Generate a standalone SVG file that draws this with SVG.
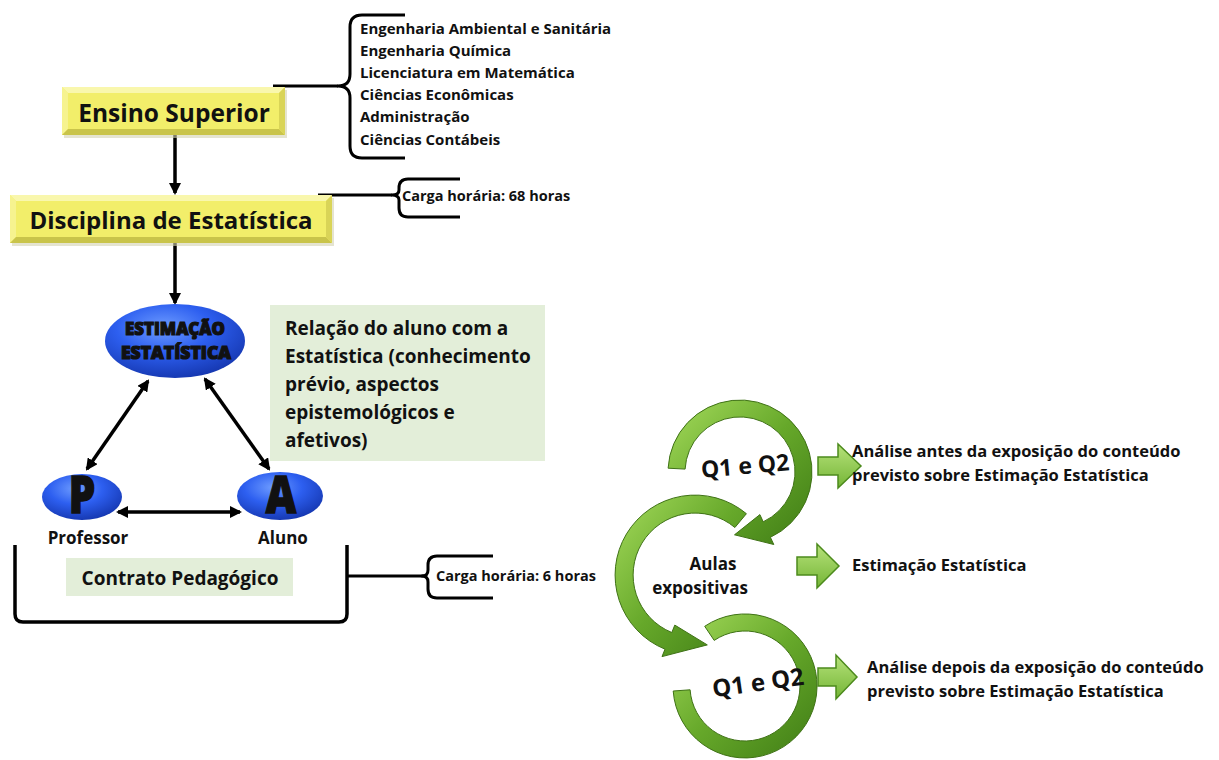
<svg xmlns="http://www.w3.org/2000/svg" width="1219" height="760" viewBox="0 0 1219 760">
<style>
text{font-family:"Open Sans",Lato,"Liberation Sans",sans-serif;font-weight:bold;fill:#111}
.conn{stroke:#000;stroke-width:3.5;fill:none}
.brace{stroke:#000;stroke-width:3;fill:none;stroke-linejoin:round}
.list{font-size:15px}
.rel{font-size:19px}
.side{font-size:16.5px}
.ellipseB{fill:url(#blue)}
.circ{fill:url(#gcirc);stroke:#3f7216;stroke-width:1}
.blk{fill:url(#gblk);stroke:#4c8a1c;stroke-width:1.5}
.gbox{fill:#e3eed9}
.heavy{stroke:#111;stroke-width:1.2;font-weight:800}
</style>
<defs>
<marker id="ah" viewBox="0 0 12 12" refX="10" refY="6" markerWidth="12" markerHeight="12" markerUnits="userSpaceOnUse" orient="auto-start-reverse">
<path d="M0,0 L12,6 L0,12 z" fill="#000"/>
</marker>
<radialGradient id="blue" cx="0.42" cy="0.32" r="0.75">
<stop offset="0" stop-color="#6e9cff"/>
<stop offset="0.45" stop-color="#2d5ff0"/>
<stop offset="1" stop-color="#1232a8"/>
</radialGradient>
<linearGradient id="gcirc" x1="0" y1="0" x2="1" y2="1">
<stop offset="0" stop-color="#a5db5c"/>
<stop offset="0.5" stop-color="#66a82a"/>
<stop offset="1" stop-color="#3f7c15"/>
</linearGradient>
<linearGradient id="gblk" x1="0" y1="0" x2="0" y2="1">
<stop offset="0" stop-color="#b6e27a"/>
<stop offset="1" stop-color="#74b536"/>
</linearGradient>
</defs>

<g id="connectors">
<line class="conn" x1="175" y1="135" x2="175" y2="193" marker-end="url(#ah)"/>
<line class="conn" x1="175" y1="243" x2="175" y2="303" marker-end="url(#ah)"/>
<line class="conn" x1="148" y1="381" x2="87" y2="469" marker-start="url(#ah)" marker-end="url(#ah)"/>
<line class="conn" x1="205" y1="379" x2="269" y2="469" marker-start="url(#ah)" marker-end="url(#ah)"/>
<line class="conn" x1="118" y1="512" x2="240" y2="512" marker-start="url(#ah)" marker-end="url(#ah)"/>
<path class="brace" d="M273,86 H338"/>
<path class="brace" d="M318,195 H392"/>
<path class="brace" d="M347,576 H424"/>
</g>

<g id="ensino">
<rect x="64" y="90" width="223" height="48" fill="#d4d2b0" opacity="0.6"/>
<rect x="62" y="87" width="223" height="48" fill="#f2ee6a"/>
<polygon points="62,87 285,87 279,93 68,93" fill="#f9f7ad"/>
<polygon points="62,87 68,93 68,129 62,135" fill="#f6f38f"/>
<polygon points="62,135 285,135 279,129 68,129" fill="#c9c44a"/>
<polygon points="285,87 285,135 279,129 279,93" fill="#d9d457"/>
<text x="174" y="122" font-size="24.5" text-anchor="middle">Ensino Superior</text>
</g>

<g id="cursos">
<path class="brace" d="M405,15 H362 Q350,15 350,27 V74 Q350,86 338,86 Q350,86 350,98 V146 Q350,158 362,158 H405"/>
<text class="list" x="360" y="34">Engenharia Ambiental e Sanitária</text>
<text class="list" x="360" y="56">Engenharia Química</text>
<text class="list" x="360" y="78">Licenciatura em Matemática</text>
<text class="list" x="360" y="100">Ciências Econômicas</text>
<text class="list" x="360" y="122">Administração</text>
<text class="list" x="360" y="145">Ciências Contábeis</text>
</g>

<g id="disciplina">
<rect x="12" y="198" width="322" height="48" fill="#d4d2b0" opacity="0.6"/>
<rect x="10" y="195" width="322" height="48" fill="#f2ee6a"/>
<polygon points="10,195 332,195 326,201 16,201" fill="#f9f7ad"/>
<polygon points="10,195 16,201 16,237 10,243" fill="#f6f38f"/>
<polygon points="10,243 332,243 326,237 16,237" fill="#c9c44a"/>
<polygon points="332,195 332,243 326,237 326,201" fill="#d9d457"/>
<text x="171" y="229" font-size="24" text-anchor="middle">Disciplina de Estatística</text>
</g>

<g id="carga68">
<path class="brace" d="M460,179 H408 Q399,179 399,188 V190 Q399,195 392,195 Q399,195 399,200 V208 Q399,217 408,217 H460"/>
<text x="402" y="201" font-size="14.5">Carga horária: 68 horas</text>
</g>

<g id="estimacao">
<ellipse class="ellipseB" cx="175" cy="341" rx="70" ry="37"/>
<text class="heavy" x="175" y="335" font-size="18" text-anchor="middle" textLength="100" lengthAdjust="spacingAndGlyphs">ESTIMAÇÃO</text>
<text class="heavy" x="176" y="359" font-size="18" text-anchor="middle" textLength="110" lengthAdjust="spacingAndGlyphs">ESTATÍSTICA</text>
</g>

<g id="relacao">
<rect class="gbox" x="270" y="305" width="275" height="156"/>
<text class="rel" x="285" y="335">Relação do aluno com a</text>
<text class="rel" x="285" y="363">Estatística (conhecimento</text>
<text class="rel" x="285" y="391">prévio, aspectos</text>
<text class="rel" x="285" y="419">epistemológicos e</text>
<text class="rel" x="285" y="447">afetivos)</text>
</g>

<g id="professor">
<ellipse class="ellipseB" cx="82" cy="497" rx="40" ry="23"/>
<text class="heavy" x="82" y="513" font-size="42" text-anchor="middle" transform="translate(82 513) scale(1 1.2) translate(-82 -513)">P</text>
<text x="88" y="544" font-size="17" text-anchor="middle">Professor</text>
</g>

<g id="aluno">
<ellipse class="ellipseB" cx="280" cy="496" rx="43" ry="24"/>
<text class="heavy" x="281" y="513" font-size="42" text-anchor="middle" transform="translate(281 513) scale(1 1.2) translate(-281 -513)">A</text>
<text x="283" y="544" font-size="17" text-anchor="middle">Aluno</text>
</g>

<g id="contrato">
<path d="M15,545 V614 Q15,622 23,622 H339 Q347,622 347,614 V545" stroke="#000" stroke-width="3.5" fill="none"/>
<rect class="gbox" x="66" y="558" width="227" height="38"/>
<text x="180" y="585" font-size="19" text-anchor="middle">Contrato Pedagógico</text>
</g>

<g id="carga6">
<path class="brace" d="M493,556 H437 Q428,556 428,565 V570 Q428,576 422,576 Q428,576 428,582 V589 Q428,598 437,598 H493"/>
<text x="436" y="581" font-size="14.5">Carga horária: 6 horas</text>
</g>

<g id="ciclo3">
<path class="circ" d="M704.7,626.3 A72,72 0 1 1 673.2,691 L690.1,689.8 A55,55 0 1 0 714.2,640.4 Z"/>
<text x="758" y="691" font-size="24" text-anchor="middle" transform="rotate(-8 758 683)">Q1 e Q2</text>
</g>

<g id="ciclo2">
<path class="circ" d="M746.4,513.7 A80,80 0 1 0 665,649.2 L662,656.6 L707.3,644.9 L674.8,625.1 L671.8,632.5 A62,62 0 1 1 734.9,527.5 Z"/>
<text x="713" y="570" font-size="17" text-anchor="middle">Aulas</text>
<text x="700" y="594" font-size="17" text-anchor="middle">expositivas</text>
</g>

<g id="ciclo1">
<path class="circ" d="M668.1,468.2 A72,72 0 1 1 770.4,537.3 L773.8,544.5 L734.5,534.8 L759.9,514.6 L763.2,521.8 A55,55 0 1 0 685.1,469.1 Z"/>
<text x="745" y="474" font-size="23" text-anchor="middle" transform="rotate(-5 745 466)">Q1 e Q2</text>
</g>

<g id="analise-antes">
<polygon class="blk" points="818,457 838,457 838,444 861,466 838,488 838,475 818,475"/>
<text class="side" x="852" y="457">Análise antes da exposição do conteúdo</text>
<text class="side" x="852" y="481">previsto sobre Estimação Estatística</text>
</g>

<g id="estimacao-estat">
<polygon class="blk" points="797,557 817,557 817,544 839,566 817,588 817,575 797,575"/>
<text class="side" x="852" y="571">Estimação Estatística</text>
</g>

<g id="analise-depois">
<polygon class="blk" points="818,668 836,668 836,655 857,677 836,699 836,686 818,686"/>
<text class="side" x="867" y="673">Análise depois da exposição do conteúdo</text>
<text class="side" x="867" y="697">previsto sobre Estimação Estatística</text>
</g>
</svg>
